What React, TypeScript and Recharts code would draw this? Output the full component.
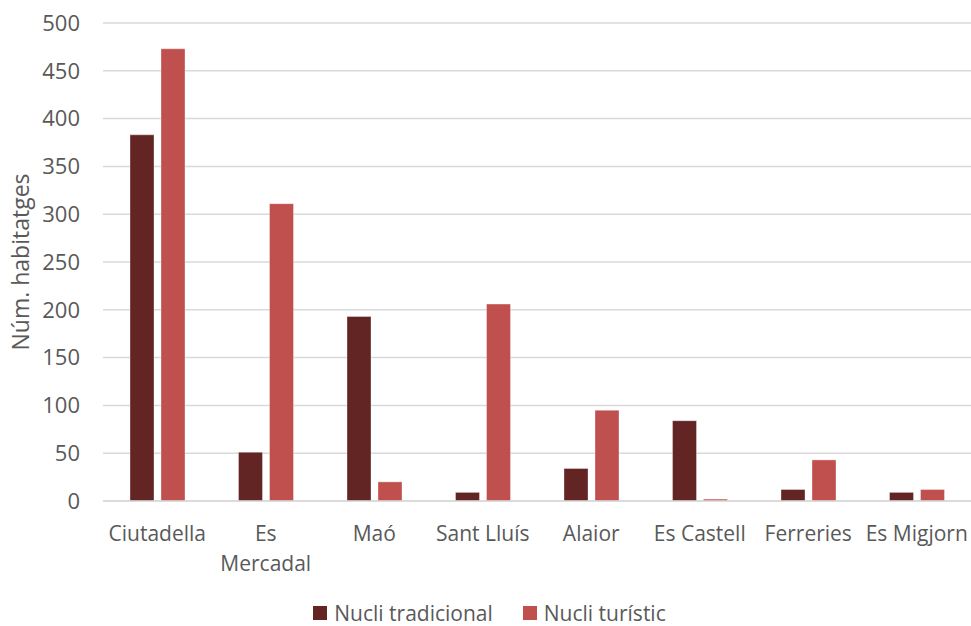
import React from 'react';
import { BarChart, Bar, XAxis, YAxis, CartesianGrid, Legend } from 'recharts';

const municipis = ['Ciutadella', 'Es Mercadal', 'Maó', 'Sant Lluís', 'Alaior', 'Es Castell', 'Ferreries', 'Es Migjorn'];
const nucliTradicional = [383, 51, 193, 9, 34, 84, 12, 9];
const nucliTuristic = [473, 311, 20, 206, 95, 2, 43, 12];
const yTicks = [0, 50, 100, 150, 200, 250, 300, 350, 400, 450, 500];

const SERIES = [
  { key: 'tradicional', name: 'Nucli tradicional', color: '#632523' },
  { key: 'turistic', name: 'Nucli turístic', color: '#C0504D' },
];

const data = municipis.map((m, i) => ({
  municipi: m,
  tradicional: nucliTradicional[i],
  turistic: nucliTuristic[i],
}));

const FONT = '"Open Sans", sans-serif';
const TEXT_COLOR = '#595959';
const GRID_COLOR = '#d9d9d9';
const MAX_LINE_CHARS = 10;

// Greedy word wrap for category names that are too long for one band
const wrapLabel = (label: string): string[] => {
  const lines: string[] = [];
  let current = '';
  label.split(' ').forEach((w) => {
    const next = current ? `${current} ${w}` : w;
    if (next.length > MAX_LINE_CHARS && current) {
      lines.push(current);
      current = w;
    } else {
      current = next;
    }
  });
  if (current) lines.push(current);
  return lines;
};

const CategoryTick = (props: any) => {
  const { x, y, payload } = props;
  const lines = wrapLabel(String(payload.value));
  return (
    <text
      x={x}
      y={y}
      textAnchor="middle"
      fill={TEXT_COLOR}
      style={{ fontSize: 21, fontFamily: FONT }}
    >
      {lines.map((l, i) => (
        <tspan key={i} x={x} dy={i === 0 ? '0.71em' : 30}>
          {l}
        </tspan>
      ))}
    </text>
  );
};

const LegendContent = () => (
  <div
    style={{
      display: 'flex',
      justifyContent: 'center',
      alignItems: 'center',
      gap: 30,
      fontFamily: FONT,
      fontSize: 21,
      color: TEXT_COLOR,
      paddingLeft: 8,
      height: 26,
    }}
  >
    {SERIES.map((s) => (
      <div key={s.key} style={{ display: 'flex', alignItems: 'center' }}>
        <span style={{ display: 'inline-block', width: 14, height: 14, background: s.color, marginRight: 7 }} />
        <span style={{ lineHeight: '26px' }}>{s.name}</span>
      </div>
    ))}
  </div>
);

const YLabel = (props: any) => {
  const { viewBox } = props;
  const cx = 20;
  const cy = viewBox.y + viewBox.height / 2;
  return (
    <text
      x={cx}
      y={cy}
      transform={`rotate(-90, ${cx}, ${cy})`}
      textAnchor="middle"
      dominantBaseline="central"
      fill={TEXT_COLOR}
      style={{ fontSize: 23, fontFamily: FONT }}
    >
      Núm. habitatges
    </text>
  );
};

export default function App() {
  return (
    <div style={{ position: 'absolute', left: 0, top: 0, width: 971, height: 626, background: '#fff' }}>
      <BarChart
        width={971}
        height={626}
        data={data}
        margin={{ top: 23, right: 0, left: 0, bottom: 0 }}
        barSize={24}
        barGap={7}
      >
        <CartesianGrid vertical={false} stroke={GRID_COLOR} strokeWidth={1.5} />
        <XAxis
          dataKey="municipi"
          height={99}
          tickLine={false}
          tickSize={6}
          tickMargin={19}
          axisLine={{ stroke: GRID_COLOR, strokeWidth: 1.5 }}
          tick={<CategoryTick />}
          interval={0}
        />
        <YAxis
          width={103}
          domain={[0, 500]}
          ticks={yTicks}
          axisLine={false}
          tickLine={false}
          tickMargin={17}
          tick={{ fill: TEXT_COLOR, fontSize: 22, fontFamily: FONT }}
          label={<YLabel />}
        />
        <Legend verticalAlign="bottom" height={26} content={<LegendContent />} />
        {SERIES.map((s) => (
          <Bar
            key={s.key}
            dataKey={s.key}
            name={s.name}
            fill={s.color}
            stroke="#ffffff"
            strokeOpacity={0.35}
            strokeWidth={1}
            isAnimationActive={false}
          />
        ))}
      </BarChart>
    </div>
  );
}
